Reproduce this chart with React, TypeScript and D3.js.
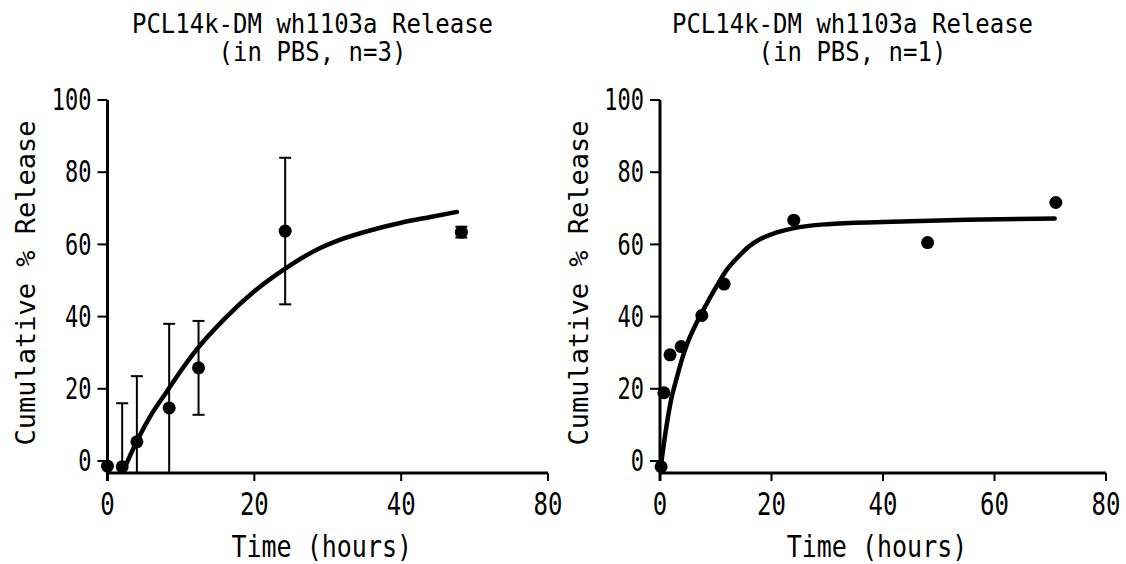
import React from 'react';
import * as d3 from 'd3';

// left panel (n=3), mean and SD
const leftTimes = [0, 2, 4, 8.4, 12.4, 24.2, 48.2];
const leftRelease = [-1.4, -1.6, 5.3, 14.7, 25.8, 63.7, 63.4];
const leftSd = [0, 17.6, 18.2, 23.3, 13, 20.3, 1.5];
// fitted curve as drawn
const leftFitTimes = [2.3, 4, 6, 8, 10, 12, 16, 20, 24, 28, 32, 36, 40, 44, 47.6];
const leftFitRelease = [-2, 5.5, 13, 19, 25, 30.5, 39.5, 47, 53, 58, 61.5, 64, 66, 67.6, 69];
const leftXTicks = [0, 20, 40, 60];
const leftXTickLabels = ['0', '20', '40', '80'];

// right panel (n=1)
const rightTimes = [0.2, 0.7, 1.8, 3.8, 7.5, 11.5, 24, 48, 71];
const rightRelease = [-1.6, 18.9, 29.4, 31.7, 40.3, 49, 66.7, 60.5, 71.6];
const rightFitTimes = [0.1, 1, 2, 3, 4, 5, 6, 8, 10, 12, 14, 16, 18, 20, 24, 30, 40, 55, 70.8];
const rightFitRelease = [-2, 8, 17, 23, 28.5, 33, 36.5, 42.5, 48, 53, 56.5, 59.5, 61.5, 62.8, 64.5, 65.6, 66.2, 66.8, 67.2];
const rightXTicks = [0, 20, 40, 60, 80];
const rightXTickLabels = ['0', '20', '40', '60', '80'];

const yTicks = [0, 20, 40, 60, 80, 100];
const titleLine1 = 'PCL14k-DM wh1103a Release';
const leftTitleLine2 = '(in PBS, n=3)';
const rightTitleLine2 = '(in PBS, n=1)';
const xTitle = 'Time (hours)';
const yTitle = 'Cumulative % Release';

const FONT = '"DejaVu Sans Mono", "Liberation Mono", monospace';

type PanelProps = {
    times: number[];
    release: number[];
    sd?: number[];
    fitTimes: number[];
    fitRelease: number[];
    xMax: number;
    xTicks: number[];
    xTickLabels: string[];
    left: number;
    right: number;
    titleX: number;
    title2: string;
    yTitleX: number;
};

function Panel({
    times, release, sd, fitTimes, fitRelease, xMax, xTicks, xTickLabels,
    left, right, titleX, title2, yTitleX
}: PanelProps) {
    const x = d3.scaleLinear().domain([0, xMax]).range([left, right]);
    const y = d3.scaleLinear().domain([0, 100]).range([461, 100]);
    const axisY = 473;
    const yFloor = y.invert(axisY);

    const fit = d3
        .line<number>()
        .x((d, i) => x(fitTimes[i]))
        .y((d) => y(d))
        .curve(d3.curveMonotoneX);

    const capW = 6;

    return (
        <g fontFamily={FONT} fill="#000">
            {/* title */}
            <text transform={`translate(${titleX},33) scale(1,1.1)`} textAnchor="middle" fontSize={24}>
                {titleLine1}
            </text>
            <text transform={`translate(${titleX},61) scale(1,1.1)`} textAnchor="middle" fontSize={24}>
                {title2}
            </text>

            {/* y axis */}
            <line x1={left} x2={left} y1={y(100)} y2={axisY + 8} stroke="#000" strokeWidth={3} />
            {yTicks.map((t) => (
                <g key={'y' + t}>
                    <line x1={left - 10} x2={left} y1={y(t)} y2={y(t)} stroke="#000" strokeWidth={2} />
                    <text
                        transform={`translate(${left - 16},${y(t)}) scale(1,1.35)`}
                        textAnchor="end"
                        dominantBaseline="central"
                        fontSize={22}
                    >
                        {t}
                    </text>
                </g>
            ))}
            <text
                transform={`translate(${yTitleX},283) rotate(-90)`}
                textAnchor="middle"
                dominantBaseline="central"
                fontSize={27}
            >
                {yTitle}
            </text>

            {/* x axis */}
            <line x1={left} x2={right} y1={axisY} y2={axisY} stroke="#000" strokeWidth={3} />
            {xTicks.map((t, i) => (
                <g key={'x' + t}>
                    <line x1={x(t)} x2={x(t)} y1={axisY} y2={axisY + 8} stroke="#000" strokeWidth={2} />
                    <text
                        transform={`translate(${x(t)},504) scale(1,1.3)`}
                        textAnchor="middle"
                        dominantBaseline="central"
                        fontSize={24}
                    >
                        {xTickLabels[i]}
                    </text>
                </g>
            ))}
            <text
                transform={`translate(${(left + right) / 2 - 6},547) scale(1,1.2)`}
                textAnchor="middle"
                dominantBaseline="central"
                fontSize={25}
            >
                {xTitle}
            </text>

            {/* error bars */}
            {sd &&
                times.map((t, i) => {
                    if (!sd[i]) return null;
                    const top = release[i] + sd[i];
                    const bottom = release[i] - sd[i];
                    const clipped = bottom < yFloor;
                    const yb = clipped ? axisY : y(bottom);
                    return (
                        <g key={'e' + i} stroke="#000" strokeWidth={2}>
                            <line x1={x(t)} x2={x(t)} y1={y(top)} y2={yb} />
                            <line x1={x(t) - capW} x2={x(t) + capW} y1={y(top)} y2={y(top)} />
                            {!clipped && (
                                <line x1={x(t) - capW} x2={x(t) + capW} y1={yb} y2={yb} />
                            )}
                        </g>
                    );
                })}

            {/* fitted curve */}
            <path d={fit(fitRelease) || ''} fill="none" stroke="#000" strokeWidth={4.5} strokeLinecap="round" />

            {/* points */}
            {times.map((t, i) => (
                <circle key={'p' + i} cx={x(t)} cy={y(release[i])} r={6.5} fill="#000" />
            ))}
        </g>
    );
}

export default function App() {
    return (
        <svg
            width={1126}
            height={564}
            style={{ position: 'absolute', left: 0, top: 0, background: '#fff' }}
        >
            <rect width={1126} height={564} fill="#fff" />
            <Panel
                times={leftTimes}
                release={leftRelease}
                sd={leftSd}
                fitTimes={leftFitTimes}
                fitRelease={leftFitRelease}
                xMax={60}
                xTicks={leftXTicks}
                xTickLabels={leftXTickLabels}
                left={107.5}
                right={548}
                titleX={312.5}
                title2={leftTitleLine2}
                yTitleX={25}
            />
            <Panel
                times={rightTimes}
                release={rightRelease}
                fitTimes={rightFitTimes}
                fitRelease={rightFitRelease}
                xMax={80}
                xTicks={rightXTicks}
                xTickLabels={rightXTickLabels}
                left={660}
                right={1106}
                titleX={852.5}
                title2={rightTitleLine2}
                yTitleX={578}
            />
        </svg>
    );
}
